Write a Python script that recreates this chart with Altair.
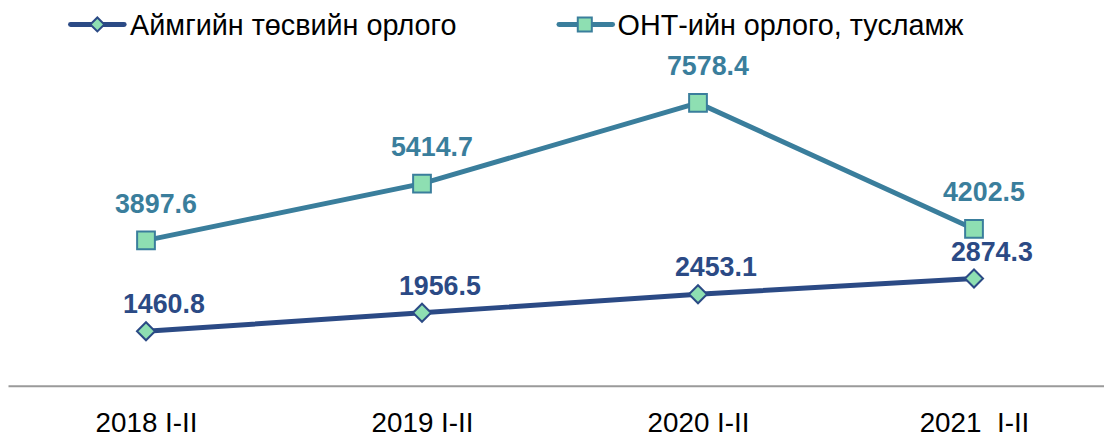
import altair as alt
import pandas as pd

# ---- data ----
periods = ["2018 I-II", "2019 I-II", "2020 I-II", "2021\u00a0\u00a0I-II"]
series_names = ["Аймгийн төсвийн орлого", "ОНТ-ийн орлого, тусламж"]
aimag_income = [1460.8, 1956.5, 2453.1, 2874.3]
ont_income = [3897.6, 5414.7, 7578.4, 4202.5]

# ---- style ----
NAVY = "#2B4A85"
TEAL = "#3A7E9C"
GREEN = "#8EDFB2"
FONT = "Liberation Sans"

df = pd.DataFrame({
    "idx": list(range(len(periods))) * 2,
    "period": periods * 2,
    "series": [series_names[0]] * 4 + [series_names[1]] * 4,
    "value": aimag_income + ont_income,
})

W, H = 1104, 371

label_expr = "[" + ",".join("'" + p + "'" for p in periods) + "][datum.value]"

x = alt.X(
    "idx:Q",
    scale=alt.Scale(domain=[-0.5, 3.471], nice=False, zero=False),
    axis=alt.Axis(title=None, labelAngle=0, ticks=False, grid=False,
                  values=list(range(len(periods))), labelExpr=label_expr,
                  labelFont=FONT, labelFontSize=28, labelColor="#000000",
                  labelPadding=24, domainColor="#9a9a9a", domainWidth=2),
)
y = alt.Y("value:Q", scale=alt.Scale(domain=[0, 9867], nice=False), axis=None)
color_scale = alt.Scale(domain=series_names, range=[NAVY, TEAL])

base = alt.Chart(df)

lines = base.mark_line(strokeWidth=5).encode(
    x=x, y=y,
    color=alt.Color("series:N", scale=color_scale, legend=None),
)

points = base.mark_point(filled=True, fill=GREEN, strokeWidth=2, opacity=1, fillOpacity=1).encode(
    x=x, y=y,
    stroke=alt.Stroke("series:N", scale=color_scale, legend=None),
    shape=alt.Shape("series:N", scale=alt.Scale(domain=series_names, range=["diamond", "square"]), legend=None),
    size=alt.Size("series:N", scale=alt.Scale(domain=series_names, range=[330, 320]), legend=None),
)

labels_aimag = base.transform_filter(
    alt.datum.series == series_names[0]
).mark_text(font=FONT, fontSize=27, fontWeight="bold", color=NAVY, dx=18, dy=-26).encode(
    x=x, y=y, text=alt.Text("value:Q", format=".1f"),
)
labels_ont = base.transform_filter(
    alt.datum.series == series_names[1]
).mark_text(font=FONT, fontSize=27, fontWeight="bold", color=TEAL, dx=10, dy=-36).encode(
    x=x, y=y, text=alt.Text("value:Q", format=".1f"),
)

# ---- manual legend ----
leg1 = alt.Chart(pd.DataFrame({"s": [series_names[0]]}))
leg2 = alt.Chart(pd.DataFrame({"s": [series_names[1]]}))
LY = 7
legend_layers = [
    leg1.mark_rule(color=NAVY, strokeWidth=5, strokeCap="round").encode(
        x=alt.value(63), x2=alt.value(117), y=alt.value(LY)),
    leg1.mark_point(shape="diamond", filled=True, fill=GREEN, stroke=NAVY, strokeWidth=2,
                    size=200, opacity=1).encode(x=alt.value(90), y=alt.value(LY)),
    leg1.mark_text(align="left", baseline="middle", font=FONT, fontSize=29, color="#000000").encode(
        x=alt.value(123), y=alt.value(LY + 2), text="s:N"),
    leg2.mark_rule(color=TEAL, strokeWidth=5, strokeCap="round").encode(
        x=alt.value(555), x2=alt.value(609), y=alt.value(LY)),
    leg2.mark_point(shape="square", filled=True, fill=GREEN, stroke=TEAL, strokeWidth=2,
                    size=200, opacity=1).encode(x=alt.value(581), y=alt.value(LY)),
    leg2.mark_text(align="left", baseline="middle", font=FONT, fontSize=29, color="#000000").encode(
        x=alt.value(614), y=alt.value(LY + 2), text="s:N"),
]

chart = alt.layer(
    lines, points, labels_aimag, labels_ont, *legend_layers
).properties(
    width=W, height=H,
    autosize=alt.AutoSizeParams(type="none"),
    padding={"left": 0, "top": 8, "right": 0, "bottom": 51},
    background="white",
).configure_view(strokeWidth=0)

chart.save("out.html", embed_options={"renderer": "svg", "actions": False})
